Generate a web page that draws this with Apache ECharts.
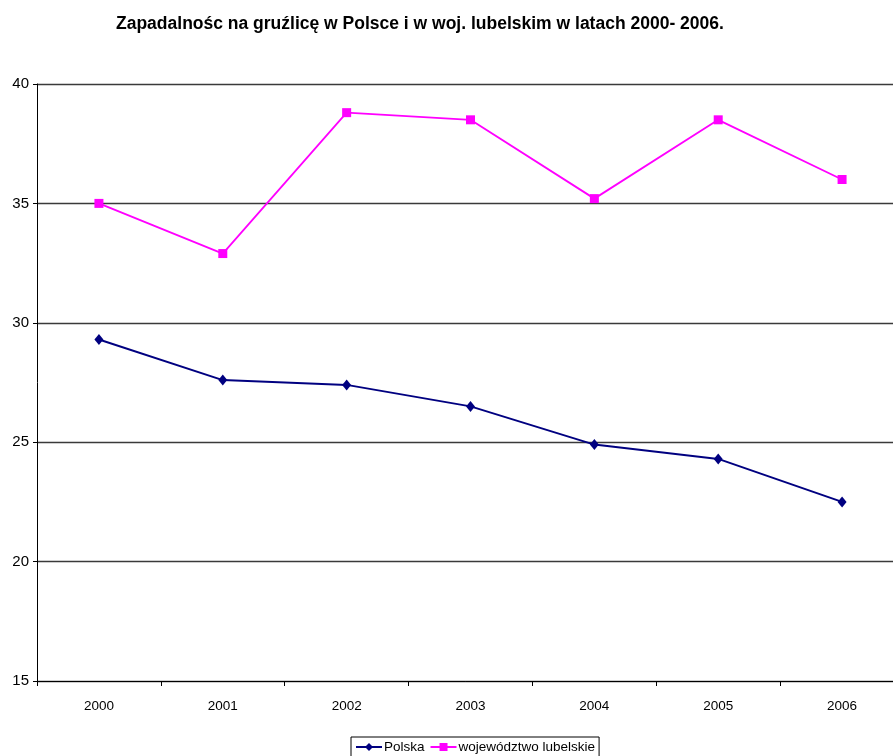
<!DOCTYPE html>
<html>
<head>
<meta charset="utf-8">
<script src="https://cdn.jsdelivr.net/npm/echarts@6/dist/echarts.min.js"></script>
<style>
  html, body { margin: 0; padding: 0; background: #fff; }
  #chart { width: 893px; height: 756px; }
</style>
</head>
<body>
<div id="chart"></div>
<script>
// Zapadalność na gruźlicę (na 100 tys. mieszkańców)
const years = ['2000', '2001', '2002', '2003', '2004', '2005', '2006'];
const polska = [29.3, 27.6, 27.4, 26.5, 24.9, 24.3, 22.5];
const lubelskie = [35.0, 32.9, 38.8, 38.5, 35.2, 38.5, 36.0];
const yTicks = [15, 20, 25, 30, 35, 40];

const FONT = '"Liberation Sans", Arial, sans-serif';

const chart = echarts.init(document.getElementById('chart'));
chart.setOption({
  animation: false,
  backgroundColor: '#fff',
  title: {
    text: 'Zapadalnośc na gruźlicę w Polsce i w woj. lubelskim w latach 2000- 2006.',
    left: 111,
    top: 10,
    textStyle: { fontFamily: FONT, fontWeight: 'bold', fontSize: 17.5, color: '#000' }
  },
  legend: {
    left: 351,
    top: 737,
    itemGap: 5,
    itemWidth: 26,
    itemHeight: 10,
    // extra bottom padding lets the frame run off the lower edge of the canvas
    padding: [3, 4, 8, 4],
    borderColor: '#000',
    borderWidth: 1,
    borderRadius: 0,
    textStyle: { fontFamily: FONT, fontSize: 13.5, color: '#000', padding: [0, 0, 0, -3] },
    data: ['Polska', 'województwo lubelskie']
  },
  // the plot runs a little past the right edge of the canvas
  grid: { left: 37, width: 867, top: 84, bottom: 75, containLabel: false, outerBoundsMode: 'none' },
  xAxis: {
    type: 'category',
    data: years,
    boundaryGap: true,
    axisLine: { lineStyle: { color: '#000', width: 1 } },
    axisTick: { show: true, length: 5, inside: false, lineStyle: { color: '#000' } },
    axisLabel: { fontFamily: FONT, fontSize: 13.5, color: '#000', margin: 18 },
    splitLine: { show: false }
  },
  yAxis: {
    type: 'value',
    min: yTicks[0],
    max: yTicks[yTicks.length - 1],
    interval: 5,
    axisLine: { show: true, lineStyle: { color: '#000', width: 1 } },
    axisTick: { show: true, length: 4, lineStyle: { color: '#000' } },
    axisLabel: { fontFamily: FONT, fontSize: 15, color: '#000', margin: 8 },
    splitLine: { show: true, lineStyle: { color: '#3a3a3a', width: 1.3 } }
  },
  series: [
    {
      name: 'Polska',
      type: 'line',
      data: polska,
      symbol: 'diamond',
      symbolSize: [9, 11],
      lineStyle: { color: '#000080', width: 2 },
      itemStyle: { color: '#000080' }
    },
    {
      name: 'województwo lubelskie',
      type: 'line',
      data: lubelskie,
      symbol: 'rect',
      symbolSize: 9,
      lineStyle: { color: '#ff00ff', width: 1.8 },
      itemStyle: { color: '#ff00ff' }
    }
  ]
});
</script>
</body>
</html>
